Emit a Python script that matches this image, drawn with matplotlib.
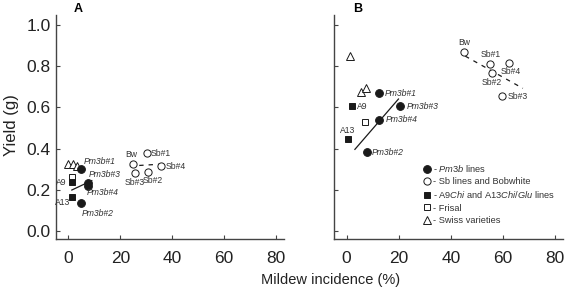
import matplotlib
matplotlib.use("Agg")
import matplotlib.pyplot as plt
from matplotlib.lines import Line2D

plt.rcParams['font.family'] = ['Liberation Sans', 'DejaVu Sans']
plt.rcParams['mathtext.fontset'] = 'custom'
plt.rcParams['mathtext.rm'] = 'Liberation Sans'
plt.rcParams['mathtext.it'] = 'Liberation Sans:italic'

# ---------------- data (mildew incidence %, yield g) ----------------
# Panel A
a_pm3b_names = ["Pm3b#1", "Pm3b#3", "Pm3b#4", "Pm3b#2"]
a_pm3b_x = [4.8, 7.5, 7.5, 4.8]
a_pm3b_y = [0.299, 0.232, 0.218, 0.136]
a_sb_names = ["Bw", "Sb#1", "Sb#4", "Sb#3", "Sb#2"]
a_sb_x = [25.0, 30.2, 35.9, 25.7, 30.8]
a_sb_y = [0.325, 0.377, 0.315, 0.280, 0.287]
a_chi_names = ["A9", "A13"]
a_chi_x = [1.5, 1.5]
a_chi_y = [0.239, 0.166]
a_frisal_x = [1.5]
a_frisal_y = [0.263]
a_swiss_x = [0.0, 1.7, 3.4]
a_swiss_y = [0.327, 0.327, 0.315]
a_fit_pm3b_x = [1.3, 9.0]
a_fit_pm3b_y = [0.198, 0.244]
a_fit_sb_x = [23.7, 37.2]
a_fit_sb_y = [0.315, 0.325]

# Panel B
b_pm3b_names = ["Pm3b#1", "Pm3b#3", "Pm3b#4", "Pm3b#2"]
b_pm3b_x = [12.6, 20.6, 12.5, 7.7]
b_pm3b_y = [0.669, 0.607, 0.539, 0.382]
b_sb_names = ["Bw", "Sb#1", "Sb#4", "Sb#2", "Sb#3"]
b_sb_x = [45.0, 55.1, 62.3, 55.8, 59.7]
b_sb_y = [0.869, 0.812, 0.818, 0.767, 0.655]
b_chi_names = ["A9", "A13"]
b_chi_x = [1.9, 0.4]
b_chi_y = [0.607, 0.445]
b_frisal_x = [7.1]
b_frisal_y = [0.531]
b_swiss_x = [1.5, 5.5, 7.5]
b_swiss_y = [0.851, 0.677, 0.693]
b_fit_pm3b_x = [3.2, 19.9]
b_fit_pm3b_y = [0.396, 0.641]
b_fit_sb_x = [45.5, 67.6]
b_fit_sb_y = [0.850, 0.693]

y_ticks = [0.0, 0.2, 0.4, 0.6, 0.8, 1.0]
x_ticks = [0, 20, 40, 60, 80]

legend_labels = ["- $\\it{Pm3b}$ lines",
                 "- Sb lines and Bobwhite",
                 "- A9$\\it{Chi}$ and A13$\\it{Chi/Glu}$ lines",
                 "- Frisal",
                 "- Swiss varieties"]

# ---------------- label offsets (points) ----------------
a_offsets = {
    "Pm3b#1": (1.9, 5.5, 'left'), "Pm3b#3": (0.4, 6.5, 'left'),
    "Pm3b#4": (-0.7, -4.8, 'left'), "Pm3b#2": (0.9, -7.4, 'left'),
    "A9": (-4.0, -0.7, 'right'), "A13": (-1.2, -4.3, 'right'),
    "Bw": (-1.2, 6.5, 'center'), "Sb#1": (2.9, 0, 'left'),
    "Sb#4": (3.1, -0.5, 'left'), "Sb#3": (0, -6.8, 'center'),
    "Sb#2": (3.6, -6.0, 'center'),
}
b_offsets = {
    "Pm3b#1": (4.1, 0, 'left'), "Pm3b#3": (4.3, 0, 'left'),
    "Pm3b#4": (4.8, 0, 'left'), "Pm3b#2": (4.0, 0, 'left'),
    "A9": (4.0, 0, 'left'), "A13": (0.3, 6.0, 'center'),
    "Bw": (0.4, 6.9, 'center'), "Sb#1": (0, 6.5, 'center'),
    "Sb#4": (1.4, -6.0, 'center'), "Sb#2": (0, -6.5, 'center'),
    "Sb#3": (3.9, 0, 'left'),
}

ink = '#1a1a1a'
txt = '#333333'
mew = 0.7

fig = plt.figure(figsize=(5.78, 2.89), dpi=100)
axA = fig.add_axes([0.0969, 0.174, 0.3936, 0.774])
axB = fig.add_axes([0.5779, 0.174, 0.3962, 0.774])


def draw(ax, d, offsets):
    ax.plot(d['fit_pm3b_x'], d['fit_pm3b_y'], '-', color=ink, lw=0.9, zorder=2)
    ax.plot(d['fit_sb_x'], d['fit_sb_y'], color=ink, lw=0.9,
            linestyle=(0, (3.5, 4)), zorder=2)
    ax.plot(d['swiss_x'], d['swiss_y'], '^', ms=6, mfc='white', mec=ink,
            mew=mew, ls='none', zorder=3)
    ax.plot(d['frisal_x'], d['frisal_y'], 's', ms=4.8, mfc='white', mec=ink,
            mew=mew, ls='none', zorder=3)
    ax.plot(d['chi_x'], d['chi_y'], 's', ms=4.8, mfc=ink, mec=ink,
            mew=mew, ls='none', zorder=4)
    ax.plot(d['sb_x'], d['sb_y'], 'o', ms=5.2, mfc='white', mec=ink,
            mew=mew, ls='none', zorder=3)
    ax.plot(d['pm3b_x'], d['pm3b_y'], 'o', ms=5.6, mfc=ink, mec=ink,
            mew=mew, ls='none', zorder=4)
    groups = [(d['pm3b_names'], d['pm3b_x'], d['pm3b_y'], 'italic'),
              (d['sb_names'], d['sb_x'], d['sb_y'], 'normal'),
              (d['chi_names'], d['chi_x'], d['chi_y'], 'normal')]
    for names, xs, ys, style in groups:
        for n, x, y in zip(names, xs, ys):
            dx, dy, ha = offsets[n]
            ax.annotate(n, (x, y), xytext=(dx, dy), textcoords='offset points',
                        ha=ha, va='center', fontsize=6.2, fontstyle=style,
                        color=txt, zorder=5)
    ax.set_xlim(-4.8, 83)
    ax.set_ylim(-0.039, 1.05)
    ax.set_xticks(x_ticks)
    ax.set_yticks(y_ticks)
    ax.set_xticklabels([str(t) for t in x_ticks])
    ax.set_yticklabels([f"{t:.1f}" for t in y_ticks])
    for s in ['top', 'right']:
        ax.spines[s].set_visible(False)
    for s in ['left', 'bottom']:
        ax.spines[s].set_color('#444444')
        ax.spines[s].set_linewidth(1.0)
    ax.tick_params(direction='in', length=3, width=0.8, colors='#444444',
                   labelcolor='#222222', labelsize=12.5)
    ax.tick_params(axis='x', pad=8.5)
    ax.tick_params(axis='y', pad=4)


dA = dict(pm3b_names=a_pm3b_names, pm3b_x=a_pm3b_x, pm3b_y=a_pm3b_y,
          sb_names=a_sb_names, sb_x=a_sb_x, sb_y=a_sb_y,
          chi_names=a_chi_names, chi_x=a_chi_x, chi_y=a_chi_y,
          frisal_x=a_frisal_x, frisal_y=a_frisal_y,
          swiss_x=a_swiss_x, swiss_y=a_swiss_y,
          fit_pm3b_x=a_fit_pm3b_x, fit_pm3b_y=a_fit_pm3b_y,
          fit_sb_x=a_fit_sb_x, fit_sb_y=a_fit_sb_y)
dB = dict(pm3b_names=b_pm3b_names, pm3b_x=b_pm3b_x, pm3b_y=b_pm3b_y,
          sb_names=b_sb_names, sb_x=b_sb_x, sb_y=b_sb_y,
          chi_names=b_chi_names, chi_x=b_chi_x, chi_y=b_chi_y,
          frisal_x=b_frisal_x, frisal_y=b_frisal_y,
          swiss_x=b_swiss_x, swiss_y=b_swiss_y,
          fit_pm3b_x=b_fit_pm3b_x, fit_pm3b_y=b_fit_pm3b_y,
          fit_sb_x=b_fit_sb_x, fit_sb_y=b_fit_sb_y)

draw(axA, dA, a_offsets)
draw(axB, dB, b_offsets)
axB.tick_params(labelleft=False)

axA.set_ylabel("Yield (g)", fontsize=12, color='#222222')
axA.yaxis.set_label_coords(-0.163, 0.51)

fig.text(331 / 578, 1 - 280 / 289, "Mildew incidence (%)", fontsize=10.5,
         ha='center', va='center', color='#222222')
fig.text(77.7 / 578, 1 - 9 / 289, "A", fontsize=9, fontweight='bold',
         ha='center', va='center')
fig.text(357.7 / 578, 1 - 9 / 289, "B", fontsize=9, fontweight='bold',
         ha='center', va='center')

handles = [
    Line2D([], [], marker='o', ls='none', ms=5.6, mfc=ink, mec=ink, mew=mew),
    Line2D([], [], marker='o', ls='none', ms=5.2, mfc='white', mec=ink, mew=mew),
    Line2D([], [], marker='s', ls='none', ms=4.8, mfc=ink, mec=ink, mew=mew),
    Line2D([], [], marker='s', ls='none', ms=4.8, mfc='white', mec=ink, mew=mew),
    Line2D([], [], marker='^', ls='none', ms=6, mfc='white', mec=ink, mew=mew),
]
leg = axB.legend(handles, legend_labels, loc='upper left',
                 bbox_to_anchor=(0.389, 0.338), frameon=False, fontsize=6.7,
                 handlelength=0.8, handletextpad=0.3, labelspacing=0.34,
                 borderpad=0, borderaxespad=0)
for t in leg.get_texts():
    t.set_color(txt)

fig.savefig("out.png", dpi=100)
